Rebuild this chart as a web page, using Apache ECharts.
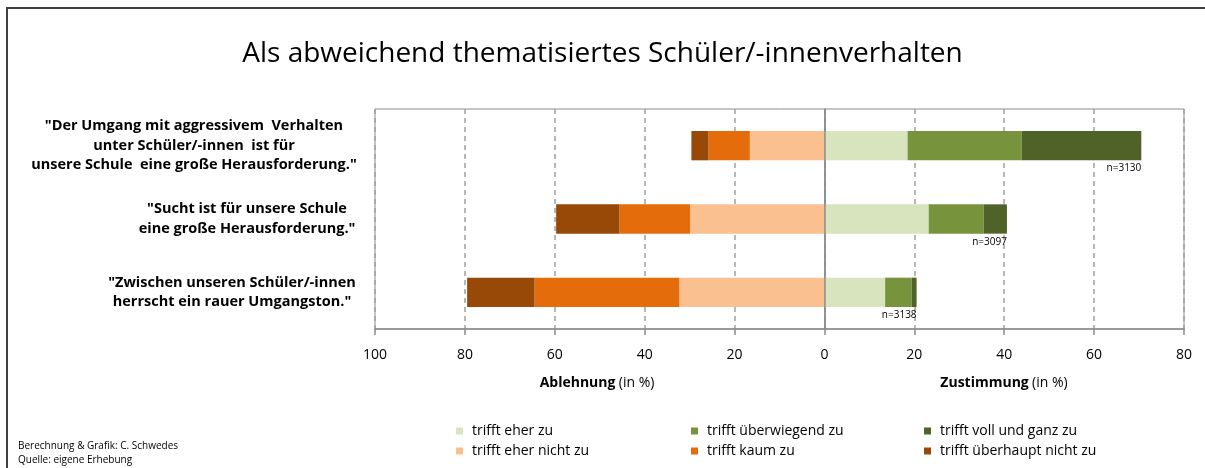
<!DOCTYPE html>
<html>
<head>
<meta charset="utf-8">
<title>Als abweichend thematisiertes Schüler/-innenverhalten</title>
<script src="https://cdn.jsdelivr.net/npm/echarts@6/dist/echarts.min.js"></script>
<style>
  html, body { margin: 0; padding: 0; background: #fff; }
  #chart { width: 1205px; height: 468px; }
</style>
</head>
<body>
<div id="chart"></div>
<script>
const categories = [
  ['"Der Umgang mit aggressivem  Verhalten', 'unter Schüler/-innen  ist für', 'unsere Schule  eine große Herausforderung."'],
  ['"Sucht ist für unsere Schule', 'eine große Herausforderung."'],
  ['"Zwischen unseren Schüler/-innen', 'herrscht ein rauer Umgangston."']
]
const nLabels = ['n=3130', 'n=3097', 'n=3138']

// Ablehnung (drawn to the left of zero)
const eherNichtZu = [16.6, 29.9, 32.3]
const kaumZu = [9.2, 15.7, 32.2]
const ueberhauptNichtZu = [3.8, 14.1, 15.0]
// Zustimmung
const eherZu = [18.5, 23.2, 13.5]
const ueberwiegendZu = [25.4, 12.2, 5.9]
const vollUndGanzZu = [26.6, 5.2, 1.1]

const xTicks = { min: -100, max: 80, interval: 20 }

const colors = {
  eherZu: '#d7e4bd',
  ueberwiegendZu: '#77933c',
  vollUndGanzZu: '#4f6228',
  eherNichtZu: '#fac090',
  kaumZu: '#e46c0a',
  ueberhauptNichtZu: '#984807'
}

const font = '"Open Sans", Lato, sans-serif'
const labelShift = [106, 0, 30]

const chart = echarts.init(document.getElementById('chart'), null, { renderer: 'canvas' })

function barSeries (name, values, color, sign, extra) {
  return Object.assign({
    name: name,
    type: 'bar',
    stack: 'total',
    barWidth: '40%',
    itemStyle: { color: color },
    emphasis: { disabled: true },
    data: values.map(v => sign * v)
  }, extra || {})
}

const legendBase = {
  orient: 'vertical',
  top: 424,
  padding: 0,
  itemWidth: 7,
  itemHeight: 7,
  itemGap: 6,
  icon: 'rect',
  selectedMode: false,
  textStyle: { fontFamily: font, fontSize: 14, lineHeight: 14, color: '#000', padding: [0, 0, 0, 4] }
}

const richLabel = shift => ({
  fontFamily: font, fontWeight: 'bold', fontSize: 14.5, lineHeight: 19.5, color: '#000', padding: [0, shift, 0, 0]
})

chart.setOption({
  animation: false,
  textStyle: { fontFamily: font },
  title: {
    text: 'Als abweichend thematisiertes Schüler/-innenverhalten',
    left: 'center',
    top: 35,
    textStyle: { fontFamily: font, fontSize: 28, fontWeight: 'normal', color: '#000' }
  },
  legend: [
    Object.assign({ left: 456, data: ['trifft eher zu', 'trifft eher nicht zu'] }, legendBase),
    Object.assign({ left: 691, data: ['trifft überwiegend zu', 'trifft kaum zu'] }, legendBase),
    Object.assign({ left: 924, data: ['trifft voll und ganz zu', 'trifft überhaupt nicht zu'] }, legendBase)
  ],
  grid: {
    left: 375,
    right: 21,
    top: 109,
    bottom: 139,
    show: true,
    borderColor: '#8c8c8c',
    borderWidth: 1
  },
  xAxis: {
    type: 'value',
    min: xTicks.min,
    max: xTicks.max,
    interval: xTicks.interval,
    axisLine: { show: true, lineStyle: { color: '#8c8c8c', width: 1.5 } },
    axisTick: { show: true, length: 6, lineStyle: { color: '#8c8c8c', width: 1.5 } },
    axisLabel: {
      margin: 19,
      fontSize: 14,
      color: '#000',
      formatter: v => String(Math.abs(v))
    },
    splitLine: { show: true, lineStyle: { color: '#a0a0a0', type: [5, 4], width: 1.5 } }
  },
  yAxis: {
    type: 'category',
    inverse: true,
    data: categories.map(c => c.join('\n')),
    axisLine: { show: true, lineStyle: { color: '#8c8c8c', width: 1.5 } },
    axisTick: { show: false },
    splitLine: { show: false },
    axisLabel: {
      margin: 128,
      align: 'center',
      formatter: (value, index) => value.split('\n').map(line => '{s' + index + '|' + line + '}').join('\n'),
      rich: {
        s0: richLabel(labelShift[0]),
        s1: richLabel(labelShift[1]),
        s2: richLabel(labelShift[2])
      }
    }
  },
  series: [
    barSeries('trifft eher zu', eherZu, colors.eherZu, 1, {
      markLine: {
        silent: true,
        symbol: 'none',
        label: { show: false },
        lineStyle: { color: '#8c8c8c', type: 'solid', width: 1.5 },
        data: [{ xAxis: 0 }]
      }
    }),
    barSeries('trifft überwiegend zu', ueberwiegendZu, colors.ueberwiegendZu, 1),
    barSeries('trifft voll und ganz zu', vollUndGanzZu, colors.vollUndGanzZu, 1, {
      label: {
        show: true,
        position: ['100%', '100%'],
        align: 'right',
        verticalAlign: 'top',
        offset: [0, 3],
        fontSize: 10,
        color: '#000',
        formatter: p => nLabels[p.dataIndex]
      }
    }),
    barSeries('trifft eher nicht zu', eherNichtZu, colors.eherNichtZu, -1),
    barSeries('trifft kaum zu', kaumZu, colors.kaumZu, -1),
    barSeries('trifft überhaupt nicht zu', ueberhauptNichtZu, colors.ueberhauptNichtZu, -1)
  ],
  graphic: [
    {
      type: 'rect',
      shape: { x: 7, y: 8, width: 1300, height: 600 },
      style: { fill: 'none', stroke: '#404040', lineWidth: 2 },
      silent: true
    },
    {
      type: 'text',
      x: 597,
      y: 383,
      style: {
        text: '{b|Ablehnung} {n|(in %)}',
        align: 'center',
        verticalAlign: 'middle',
        rich: {
          b: { fontFamily: font, fontSize: 14, fontWeight: 'bold', fill: '#000' },
          n: { fontFamily: font, fontSize: 14, fill: '#000' }
        }
      }
    },
    {
      type: 'text',
      x: 1004,
      y: 383,
      style: {
        text: '{b|Zustimmung} {n|(in %)}',
        align: 'center',
        verticalAlign: 'middle',
        rich: {
          b: { fontFamily: font, fontSize: 14, fontWeight: 'bold', fill: '#000' },
          n: { fontFamily: font, fontSize: 14, fill: '#000' }
        }
      }
    },
    {
      type: 'text',
      x: 18,
      y: 439,
      style: {
        text: 'Berechnung & Grafik: C. Schwedes\nQuelle: eigene Erhebung',
        fontFamily: font,
        fontSize: 10,
        lineHeight: 14,
        fill: '#000'
      }
    }
  ]
})
</script>
</body>
</html>
